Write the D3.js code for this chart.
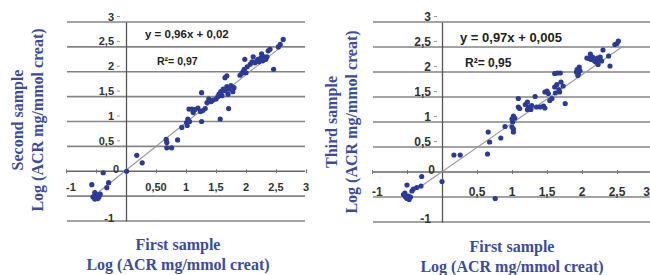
<!DOCTYPE html>
<html><head><meta charset="utf-8">
<script src="https://cdn.jsdelivr.net/npm/d3@7"></script>
<style>body{margin:0;background:#fff}svg{display:block}</style>
</head><body>
<svg id="c" width="650" height="275"></svg>
<script>
// ---- data ----
const firstSampleA = [-0.57,-0.52,-0.53,-0.49,-0.46,-0.52,-0.43,-0.5,-0.55,-0.47,-0.45,-0.38,-0.29,-0.32,0.01,0.18,0.27,0.67,0.68,0.68,0.76,0.86,0.93,1.01,1.02,1.03,1.06,1.05,1.1,1.15,1.2,1.24,1.28,1.32,1.12,1.26,1.26,1.35,1.38,1.42,1.45,1.5,1.53,1.55,1.58,1.6,1.62,1.57,1.65,1.68,1.71,1.65,1.68,1.72,1.75,1.78,1.7,1.8,1.9,1.93,1.95,1.97,2.0,2.02,1.98,2.12,2.07,2.1,2.15,2.18,2.2,2.22,2.25,2.28,2.3,2.33,2.35,2.26,2.37,2.4,2.46,2.54,2.57,2.62];
const secondSample = [-0.27,-0.43,-0.5,-0.53,-0.48,-0.56,-0.46,-0.47,-0.52,-0.55,-0.52,-0.03,-0.23,-0.33,0.0,0.32,0.17,0.64,0.58,0.47,0.47,0.63,0.88,0.98,0.92,1.05,1.0,1.25,1.25,1.24,1.27,1.2,1.22,1.26,1.18,1.58,1.0,1.38,1.45,1.4,1.43,1.45,1.5,1.55,1.6,1.52,1.65,1.05,1.88,1.92,1.26,1.62,1.7,1.65,1.72,1.6,1.55,1.68,1.93,1.97,2.0,2.05,1.98,2.1,2.25,2.3,2.15,2.2,2.18,2.22,2.25,2.2,2.28,2.22,2.3,2.25,2.3,2.36,2.42,2.45,2.05,2.5,2.55,2.65];
const firstSampleB = [-0.55,-0.52,-0.5,-0.48,-0.53,-0.47,-0.5,-0.45,-0.43,-0.41,-0.36,-0.3,-0.29,0.0,0.17,0.26,0.76,0.65,0.66,0.68,0.84,0.9,1.0,1.02,1.02,1.0,1.02,1.04,1.01,1.09,1.11,1.09,1.19,1.22,1.24,1.27,1.22,1.28,1.33,1.35,1.4,1.47,1.45,1.47,1.5,1.52,1.54,1.57,1.61,1.65,1.69,1.61,1.64,1.67,1.7,1.73,1.62,1.68,1.76,1.92,1.93,1.95,1.96,1.97,1.94,2.07,2.1,2.13,2.15,2.18,2.2,2.22,2.25,2.28,2.23,2.26,2.12,2.3,2.38,2.4,2.47,2.5,2.52];
const thirdSample = [-0.45,-0.5,-0.53,-0.48,-0.42,-0.55,-0.26,-0.5,-0.38,-0.34,-0.31,-0.28,-0.09,-0.19,0.34,0.34,-0.53,0.36,0.8,0.6,0.68,0.91,0.9,0.86,0.8,1.06,1.12,1.08,1.0,1.3,1.27,1.47,1.35,1.4,1.3,1.25,1.25,1.33,1.51,1.3,1.3,1.28,1.32,1.6,1.62,1.57,1.43,1.47,1.97,1.98,1.98,1.7,1.75,1.65,1.8,1.72,1.58,1.6,1.37,2.0,2.05,1.97,2.1,2.03,1.93,2.28,2.27,2.25,2.3,2.22,2.2,2.28,2.25,2.22,2.15,2.3,2.36,2.44,2.32,2.12,2.55,2.57,2.62];
const xTicks = [-1, 0.5, 1, 1.5, 2, 2.5, 3];
const xTickLabelsA = ["-1", "0,50", "1", "1,5", "2", "2,5", "3"];
const xTickLabelsB = ["-1", "0,5", "1", "1,5", "2", "2,5", "3"];
const yTicks = [3, 2.5, 2, 1.5, 1, 0.5, 0, -1];
const yTickLabels = ["3", "2,5", "2", "1,5", "1", "0,5", "0", "-1"];
const gridValues = [-1, -0.5, 0.5, 1, 1.5, 2, 2.5, 3];
const fitA = {slope: 0.96, intercept: 0.02, from: -0.55, to: 2.62, eq: "y = 0,96x + 0,02", r2: "0,97"};
const fitB = {slope: 0.97, intercept: 0.005, from: -0.33, to: 2.55, eq: "y = 0,97x + 0,005", r2: "0,95"};

const svg = d3.select("#c");
const blue = "#2b3a98";
const titleBlue = "#3d4b9e";
const serif = "'Liberation Serif','DejaVu Serif',serif";
const sans = "'Liberation Sans',Arial,sans-serif";

function panel(cfg) {
  const x = d3.scaleLinear().domain([-1, 3]).range(cfg.xr);
  const y = d3.scaleLinear().domain([-1, 3]).range(cfg.yr);
  const g = svg.append("g");
  // gridlines
  g.selectAll("line.grid").data(gridValues).enter().append("line")
    .attr("x1", x(-1) + 1).attr("x2", cfg.gridEnd)
    .attr("y1", d => y(d)).attr("y2", d => y(d))
    .attr("stroke", "#858585").attr("stroke-width", 1.7);
  // x axis at 0
  const xa = g.append("g").attr("transform", `translate(0,${y(0)})`)
    .call(d3.axisBottom(x).tickValues(d3.range(-1, 3.01, 0.5)).tickSize(3).tickFormat(""));
  xa.select(".domain").attr("stroke", "#666").attr("stroke-width", 1.3).attr("d", `M${x(-1)+1},0H${cfg.gridEnd}`);
  xa.selectAll(".tick line").attr("stroke", "#777").attr("y1", -2).attr("y2", 2);
  // y axis
  const ya = g.append("g").attr("transform", `translate(${x(0)},0)`)
    .call(d3.axisLeft(y).tickValues([]).tickSize(0));
  ya.select(".domain").attr("stroke", "#555").attr("stroke-width", 1.3);
  // x tick labels
  g.selectAll("text.xt").data(xTicks).enter().append("text")
    .attr("x", d => d === 3 && cfg.lastEnd ? cfg.gridEnd : x(d)).attr("y", cfg.xLabelY)
    .attr("text-anchor", d => d === -1 ? "start" : (d === 3 && cfg.lastEnd ? "end" : "middle"))
    .attr("dominant-baseline", "central")
    .attr("font-family", sans).attr("font-weight", "bold").attr("font-size", cfg.tickFs)
    .attr("fill", "#333").text((d, i) => cfg.xLabels[i]);
  // y tick labels
  g.selectAll("text.yt").data(yTicks).enter().append("text")
    .attr("x", d => d === 0 ? x(0) - 7 : x(0) - cfg.yLabelGap)
    .attr("y", d => d === 0 ? y(0) - 2 : (d === -1 ? y(d) - 3 : y(d) - 5.5))
    .attr("text-anchor", "end").attr("dominant-baseline", "central")
    .attr("font-family", sans).attr("font-weight", "bold").attr("font-size", cfg.tickFs)
    .attr("fill", "#333").text((d, i) => yTickLabels[i]);
  g.selectAll("line.ytk").data(yTicks.filter(d => d > 0)).enter().append("line")
    .attr("x1", x(0) - cfg.yLabelGap + 3).attr("x2", x(0) - cfg.yLabelGap + 6)
    .attr("y1", d => y(d) - 5.5).attr("y2", d => y(d) - 5.5)
    .attr("stroke", "#999").attr("stroke-width", 1);
  // regression line
  const fit = cfg.fit;
  g.append("line")
    .attr("x1", x(fit.from)).attr("y1", y(fit.slope * fit.from + fit.intercept))
    .attr("x2", x(fit.to)).attr("y2", y(fit.slope * fit.to + fit.intercept))
    .attr("stroke", "#9a9a9a").attr("stroke-width", 1.1);
  // points
  g.selectAll("circle").data(cfg.xs.map((v, i) => [v, cfg.ys[i]])).enter().append("circle")
    .attr("cx", d => x(d[0])).attr("cy", d => y(d[1])).attr("r", 2.6)
    .attr("fill", blue);
  // equation
  g.append("text").attr("x", cfg.eqX).attr("y", cfg.eqY).attr("dominant-baseline", "central")
    .attr("font-family", sans).attr("font-weight", "bold").attr("font-size", cfg.eqFs)
    .attr("fill", "#222").text(fit.eq);
  g.append("text").attr("x", cfg.r2X).attr("y", cfg.r2Y).attr("dominant-baseline", "central")
    .attr("font-family", sans).attr("font-weight", "bold").attr("font-size", cfg.eqFs - 1)
    .attr("fill", "#222").text("R\u00b2= " + fit.r2);
  // axis titles
  const xt = g.append("text").attr("text-anchor", "middle")
    .attr("font-family", serif).attr("font-weight", "bold").attr("font-size", 16).attr("fill", titleBlue);
  xt.append("tspan").attr("x", cfg.xTitleX).attr("y", cfg.xTitleY).text("First sample");
  xt.append("tspan").attr("x", cfg.xTitleX).attr("y", cfg.xTitleY + 20).text("Log (ACR mg/mmol creat)");
  const yt = g.append("text").attr("text-anchor", "middle")
    .attr("transform", `translate(${cfg.yTitleX},${cfg.yTitleY}) rotate(-90)`)
    .attr("font-family", serif).attr("font-weight", "bold").attr("font-size", 16).attr("fill", titleBlue);
  yt.append("tspan").attr("x", 0).attr("y", 0).text(cfg.yName);
  yt.append("tspan").attr("x", 0).attr("y", 20).text("Log (ACR mg/mmol creat)");
}

panel({xr: [66, 306], yr: [221, 22], gridEnd: 305, xs: firstSampleA, ys: secondSample,
  xLabels: xTickLabelsA, xLabelY: 187, yLabelGap: 12, tickFs: 11, fit: fitA, lastEnd: false,
  eqX: 145, eqY: 34, r2X: 157, r2Y: 61, eqFs: 11.5,
  xTitleX: 178, xTitleY: 250, yTitleX: 23, yTitleY: 120, yName: "Second sample"});
panel({xr: [372, 652], yr: [222, 22], gridEnd: 650, xs: firstSampleB, ys: thirdSample,
  xLabels: xTickLabelsB, xLabelY: 192, yLabelGap: 11, tickFs: 12, fit: fitB, lastEnd: true,
  eqX: 460, eqY: 37, r2X: 465, r2Y: 63, eqFs: 13,
  xTitleX: 512, xTitleY: 252, yTitleX: 337, yTitleY: 122, yName: "Third sample"});
</script>
</body></html>
